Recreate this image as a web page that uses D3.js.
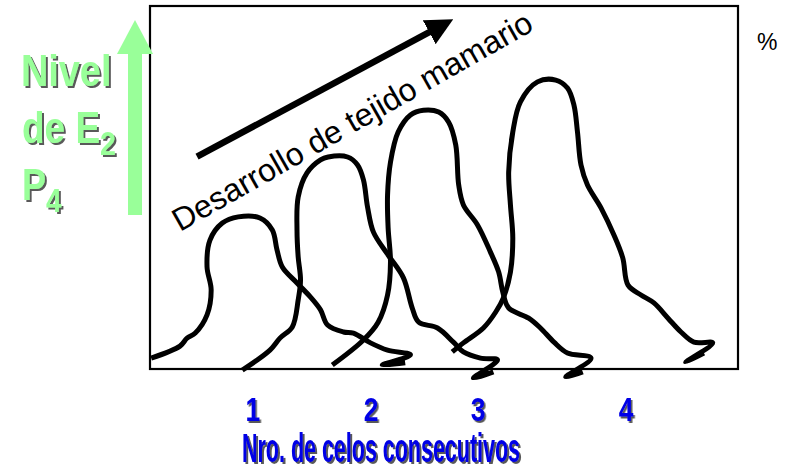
<!DOCTYPE html>
<html>
<head>
<meta charset="utf-8">
<script src="https://cdn.jsdelivr.net/npm/d3@7"></script>
<style>
  body { margin: 0; background: #fff; }
  svg { display: block; }
</style>
</head>
<body>
<div id="grafico"></div>
<script>
// Curvas de celos (x: tiempo en unidades arbitrarias 0-100, y: nivel en %)
var celo1 = [[0.2,3.0],[5.1,6.3],[6.3,8.5],[7.7,9.9],[9.7,14.9],[10.4,21.8],[9.7,28.1],[10.2,35.5],
  [12.3,40.2],[15.0,41.9],[18.7,41.6],[20.8,38.3],[21.6,32.8],[22.5,28.1],[25.0,23.7],[27.3,19.8],
  [29.0,16.3],[30.2,12.1],[32.9,10.2],[34.6,9.9],[37.5,7.2],[40.4,5.2],[44.3,3.9],[39.5,1.1],[43.4,1.7]];
var celo2 = [[15.7,-0.3],[20.4,5.2],[22.1,8.5],[24.2,11.6],[25.2,19.0],[25.6,24.5],[25.2,30.9],[25.0,38.3],
  [25.2,47.4],[26.7,54.0],[29.0,57.6],[30.3,58.4],[33.6,58.4],[35.3,56.2],[36.3,52.1],[37.0,44.6],
  [38.0,37.7],[40.5,31.4],[43.1,25.1],[44.6,16.8],[45.7,12.9],[48.9,11.3],[51.6,7.4],[53.3,4.7],
  [56.2,3.0],[59.1,2.5],[55.0,-2.5],[58.4,-0.8]];
var celo3 = [[31.0,1.1],[36.3,8.0],[38.8,12.9],[40.4,20.4],[40.9,29.5],[40.5,38.8],[40.4,47.9],[40.9,57.0],
  [42.2,65.3],[44.3,70.0],[46.5,71.3],[49.1,70.8],[50.8,68.0],[52.0,61.7],[52.5,50.7],[53.3,45.2],
  [55.7,39.7],[57.9,32.2],[59.3,26.7],[60.0,21.2],[61.0,16.8],[64.4,14.0],[66.4,11.3],[68.7,7.4],
  [71.0,4.4],[75.0,3.0],[70.7,-2.2],[73.6,-0.8]];
var celo4 = [[51.4,4.7],[53.3,7.2],[56.7,11.3],[58.8,15.7],[60.1,19.6],[61.3,26.7],[61.7,36.1],[61.3,45.2],
  [61.0,54.3],[61.7,65.3],[63.0,73.6],[65.9,79.1],[69.0,79.6],[71.0,77.4],[72.1,72.7],[72.7,65.3],
  [73.3,56.2],[74.4,50.7],[76.7,44.4],[78.9,36.9],[80.4,30.6],[81.3,23.1],[83.5,20.4],[85.7,18.2],
  [88.1,14.0],[90.3,10.2],[92.5,7.4],[95.7,7.2],[91.1,1.9],[94.2,4.4]];

// Etiquetas del eje X
var celoPos = [17.4, 37.5, 55.7, 80.9];
var celoLabels = ["1", "2", "3", "4"];

// Flecha de desarrollo (inicio y fin de la línea, en unidades del gráfico)
var flecha = [[8.0, 58.5], [48.3, 93.5]];

var width = 790, height = 469;
var x = d3.scaleLinear().domain([0, 100]).range([150, 738]);
var y = d3.scaleLinear().domain([0, 100]).range([369, 6]);

var svg = d3.select("#grafico").append("svg")
    .attr("width", width)
    .attr("height", height);

var defs = svg.append("defs");
defs.append("filter").attr("id", "sombra")
    .attr("x", "-10%").attr("y", "-10%").attr("width", "130%").attr("height", "130%")
  .append("feDropShadow")
    .attr("dx", 2).attr("dy", 2).attr("stdDeviation", 0.6)
    .attr("flood-color", "#222").attr("flood-opacity", 0.75);
defs.append("marker").attr("id", "punta")
    .attr("viewBox", "0 0 10 10").attr("refX", 2).attr("refY", 5)
    .attr("markerWidth", 4.2).attr("markerHeight", 4.2)
    .attr("markerUnits", "strokeWidth")
    .attr("orient", "auto")
  .append("path").attr("d", "M0,0 L10,5 L0,10 Z").attr("fill", "#000");

// Marco del gráfico
svg.append("rect")
    .attr("x", x(0)).attr("y", y(100))
    .attr("width", x(100) - x(0)).attr("height", y(0) - y(100))
    .attr("fill", "none").attr("stroke", "#000").attr("stroke-width", 2.2);

// Curvas
var linea = d3.line()
    .x(function(d) { return x(d[0]); })
    .y(function(d) { return y(d[1]); })
    .curve(d3.curveCatmullRom.alpha(0.5));

svg.selectAll(".celo")
  .data([celo1, celo2, celo3, celo4])
  .enter().append("path")
    .attr("class", "celo")
    .attr("d", linea)
    .attr("fill", "none")
    .attr("stroke", "#000")
    .attr("stroke-width", 5)
    .attr("stroke-linejoin", "round")
    .attr("stroke-linecap", "butt");

// Flecha negra diagonal
svg.append("line")
    .attr("x1", x(flecha[0][0])).attr("y1", y(flecha[0][1]))
    .attr("x2", x(flecha[1][0])).attr("y2", y(flecha[1][1]))
    .attr("stroke", "#000").attr("stroke-width", 6.5)
    .attr("marker-end", "url(#punta)");

// Texto rotado
var ang = Math.atan2(y(flecha[1][1]) - y(flecha[0][1]), x(flecha[1][0]) - x(flecha[0][0])) * 180 / Math.PI;
svg.append("text")
    .attr("transform", "translate(180,232) rotate(" + (ang - 1.5) + ")")
    .style("font-family", "'Liberation Sans', Arial, sans-serif")
    .style("font-size", "32px")
    .text("Desarrollo de tejido mamario");

// %
svg.append("text")
    .attr("x", 757).attr("y", 50)
    .style("font-family", "'Liberation Sans', Arial, sans-serif")
    .style("font-size", "23px")
    .text("%");

// Eje X con los números de celo
var xAxis = d3.axisBottom(x)
    .tickValues(celoPos)
    .tickFormat(function(d, i) { return celoLabels[i]; })
    .tickSize(0)
    .tickPadding(0);

var gx = svg.append("g")
    .attr("transform", "translate(0,421)")
    .call(xAxis);
gx.select(".domain").remove();
gx.selectAll("text")
    .attr("dy", 0)
    .attr("y", 0)
    .attr("transform", "scale(0.8,1)")
    .attr("fill", "#0000e6")
    .attr("filter", "url(#sombra)")
    .style("font-family", "'Liberation Sans', Arial, sans-serif")
    .style("font-weight", "bold")
    .style("font-size", "33px");

svg.append("text")
    .attr("x", 381).attr("y", 462)
    .attr("text-anchor", "middle")
    .attr("fill", "#0000e6")
    .attr("filter", "url(#sombra)")
    .attr("textLength", 278)
    .attr("lengthAdjust", "spacingAndGlyphs")
    .style("font-family", "'Liberation Sans', Arial, sans-serif")
    .style("font-weight", "bold")
    .style("font-size", "40px")
    .text("Nro. de celos consecutivos");

// Eje Y: flecha verde y texto
var verde = "#99ff99";
svg.append("rect")
    .attr("x", 128).attr("y", 52).attr("width", 14).attr("height", 163)
    .attr("fill", verde);
svg.append("path")
    .attr("d", "M135,20 L153,54 L117,54 Z")
    .attr("fill", verde);

var gy = svg.append("g")
    .attr("fill", verde)
    .attr("filter", "url(#sombra)")
    .style("font-family", "'Liberation Sans', Arial, sans-serif")
    .style("font-weight", "bold")
    .style("font-size", "44px");

gy.append("text").attr("transform", "translate(21,86) scale(0.86,1)").text("Nivel");
var t2 = gy.append("text").attr("transform", "translate(22,143) scale(0.84,1)");
t2.append("tspan").text("de E");
t2.append("tspan").attr("dy", 12).style("font-size", "34px").text("2");
var t3 = gy.append("text").attr("transform", "translate(22,200) scale(0.82,1)");
t3.append("tspan").text("P");
t3.append("tspan").attr("dy", 12).style("font-size", "34px").text("4");
</script>
</body>
</html>
